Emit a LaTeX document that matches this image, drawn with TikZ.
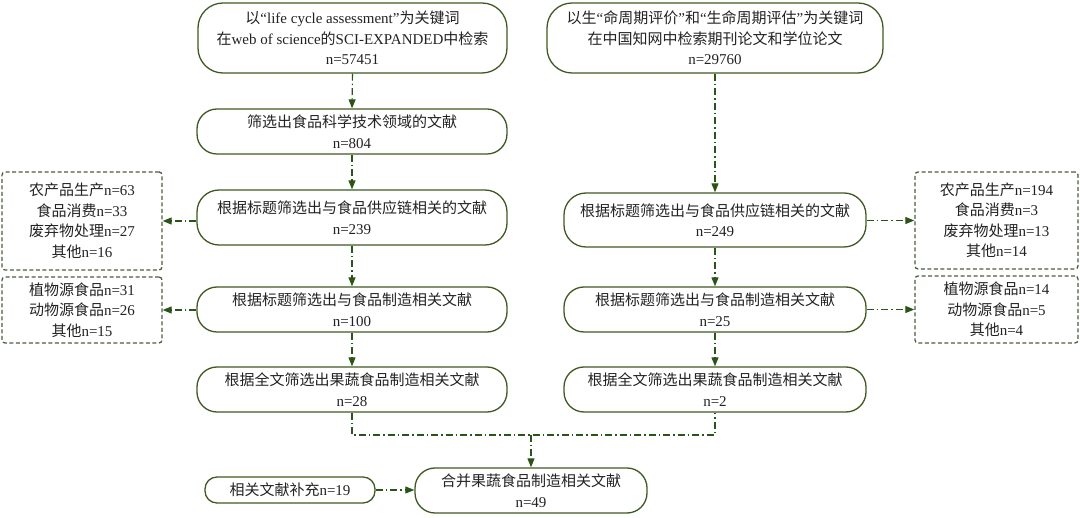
\documentclass[tikz,border=0pt]{standalone}
\usepackage{fontspec}
\setmainfont{Liberation Serif}
\newfontfamily\cjk{Noto Sans CJK SC}
\usetikzlibrary{arrows.meta}
\definecolor{boxgreen}{HTML}{3E5A22}
\definecolor{arrgreen}{HTML}{2B5418}
\definecolor{dashgreen}{HTML}{4C5E3E}
\definecolor{txt}{HTML}{222222}
\newcommand{\zhs}[1]{{\cjk #1}}
\begin{document}
\begin{tikzpicture}[x=1pt,y=-1pt,
  roundbox/.style={draw=boxgreen, line width=1.3pt, rounded corners=20pt, align=center,
    inner sep=0pt, font=\fontsize{15}{20.5}\selectfont, text=txt},
  sidebox/.style={draw=dashgreen, line width=1.3pt, dash pattern=on 4pt off 2.5pt,
    rounded corners=3pt, align=center, inner sep=0pt, font=\fontsize{15}{20.5}\selectfont, text=txt},
  linkline/.style={draw=arrgreen, line width=1.1pt, dash pattern=on 7pt off 3pt on 1.5pt off 3pt},
  flow/.style={linkline, -{Triangle[length=9pt,width=7pt]}}
]
\useasboundingbox (0,0) rectangle (1080,518);

\node[roundbox, rounded corners=25pt, minimum width=309pt, minimum height=70pt] (A) at (352.5,38)
  {\zhs{以}“life cycle assessment”\zhs{为关键词}\\\zhs{在}web of science\zhs{的}SCI-EXPANDED\zhs{中检索}\\n=57451};
\node[roundbox, rounded corners=25pt, minimum width=336pt, minimum height=70pt] (B) at (715,38)
  {\zhs{以生}“\zhs{命周期评价}”\zhs{和}“\zhs{生命周期评估}”\zhs{为关键词}\\\zhs{在中国知网中检索期刊论文和学位论文}\\n=29760};

\node[roundbox, minimum width=310pt, minimum height=45pt] (L2) at (352,131.5)
  {\zhs{筛选出食品科学技术领域的文献}\\n=804};

\node[roundbox, rounded corners=22pt, minimum width=310pt, minimum height=55pt] (L3) at (352,217.5)
  {\zhs{根据标题筛选出与食品供应链相关的文献}\\n=239};
\node[roundbox, rounded corners=22pt, minimum width=302pt, minimum height=54pt] (R3) at (715,220)
  {\zhs{根据标题筛选出与食品供应链相关的文献}\\n=249};

\node[roundbox, minimum width=310pt, minimum height=45pt] (L4) at (352,309.5)
  {\zhs{根据标题筛选出与食品制造相关文献}\\n=100};
\node[roundbox, minimum width=302pt, minimum height=45pt] (R4) at (715,309.5)
  {\zhs{根据标题筛选出与食品制造相关文献}\\n=25};

\node[roundbox, minimum width=310pt, minimum height=45pt] (L5) at (352,389.5)
  {\zhs{根据全文筛选出果蔬食品制造相关文献}\\n=28};
\node[roundbox, minimum width=302pt, minimum height=45pt] (R5) at (715,389.5)
  {\zhs{根据全文筛选出果蔬食品制造相关文献}\\n=2};

\node[roundbox, minimum width=232pt, minimum height=45pt] (M) at (531,490.5)
  {\zhs{合并果蔬食品制造相关文献}\\n=49};
\node[roundbox, rounded corners=12pt, minimum width=170pt, minimum height=26pt] (S) at (290,490)
  {\zhs{相关文献补充}n=19};

\node[sidebox, minimum width=160pt, minimum height=98pt] (DL1) at (82,221)
  {\zhs{农产品生产}n=63\\\zhs{食品消费}n=33\\\zhs{废弃物处理}n=27\\\zhs{其他}n=16};
\node[sidebox, minimum width=160pt, minimum height=66pt] (DL2) at (82,310)
  {\zhs{植物源食品}n=31\\\zhs{动物源食品}n=26\\\zhs{其他}n=15};
\node[sidebox, minimum width=163pt, minimum height=97pt] (DR1) at (996.5,220.5)
  {\zhs{农产品生产}n=194\\\zhs{食品消费}n=3\\\zhs{废弃物处理}n=13\\\zhs{其他}n=14};
\node[sidebox, minimum width=163pt, minimum height=67pt] (DR2) at (996.5,309.5)
  {\zhs{植物源食品}n=14\\\zhs{动物源食品}n=5\\\zhs{其他}n=4};

% vertical flow
\draw[flow] (A.south) -- (L2.north);
\draw[flow] (L2.south) -- (L3.north);
\draw[flow] (L3.south) -- (L4.north);
\draw[flow] (L4.south) -- (L5.north);
\draw[flow] (B.south) -- (R3.north);
\draw[flow] (R3.south) -- (R4.north);
\draw[flow] (R4.south) -- (R5.north);

% side flows
\draw[flow] (L3.west |- DL1.east) -- (DL1.east);
\draw[flow] (L4.west |- DL2.east) -- (DL2.east);
\draw[flow] (R3.east |- DR1.west) -- (DR1.west);
\draw[flow] (R4.east |- DR2.west) -- (DR2.west);

% merge
\coordinate (j) at (531,435);
\draw[linkline] (L5.south) -- (L5.south |- j) -- (j -| R5.south) -- (R5.south);
\draw[flow] (j) -- (M.north);
\draw[flow] (S.east) -- (M.west |- S.east);
\end{tikzpicture}
\end{document}
